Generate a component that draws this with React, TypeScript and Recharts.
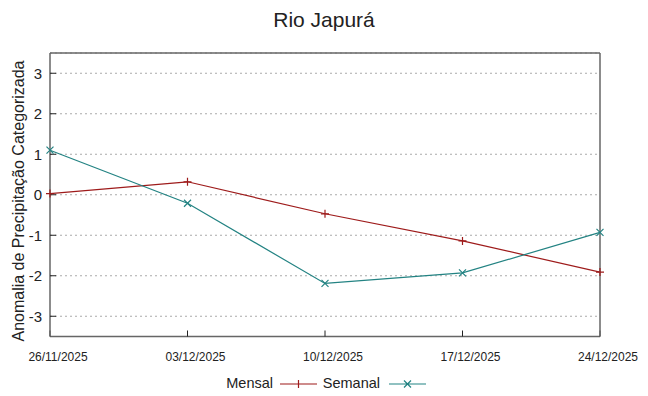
import React from 'react';
import { LineChart, Line, XAxis, YAxis, CartesianGrid } from 'recharts';

const dates = ['26/11/2025', '03/12/2025', '10/12/2025', '17/12/2025', '24/12/2025'];
const mensal = [0.03, 0.32, -0.47, -1.14, -1.91];
const semanal = [1.1, -0.21, -2.19, -1.93, -0.93];
const yTicks = [-3, -2, -1, 0, 1, 2, 3];

const data = dates.map((d, i) => ({ idx: i, date: d, mensal: mensal[i], semanal: semanal[i] }));

const RED = '#9e1b1b';
const TEAL = '#238383';
const FONT = "'Liberation Sans', Arial, sans-serif";

function PlusDot(props: any) {
    const { cx, cy, index } = props;
    return (
        <path key={'p' + index} d={`M${cx - 4},${cy}H${cx + 4}M${cx},${cy - 4}V${cy + 4}`} stroke={RED} strokeWidth={1.2} fill="none" />
    );
}

function CrossDot(props: any) {
    const { cx, cy, index } = props;
    return (
        <path key={'x' + index} d={`M${cx - 3.5},${cy - 3.5}L${cx + 3.5},${cy + 3.5}M${cx - 3.5},${cy + 3.5}L${cx + 3.5},${cy - 3.5}`} stroke={TEAL} strokeWidth={1.2} fill="none" />
    );
}

export default function App() {
    const axisLine = { stroke: '#666', strokeWidth: 1.5 };
    const tickLine = { stroke: '#222', strokeWidth: 1 };

    return (
        <div style={{ position: 'absolute', left: 0, top: 0, width: 648, height: 396, background: '#fff' }}>
            <LineChart width={648} height={396} data={data} margin={{ top: 52, right: 47, bottom: 29.5, left: 10 }}>
                <CartesianGrid vertical={false} stroke="#aaa" strokeDasharray="2 3" />
                <XAxis
                    dataKey="idx"
                    type="number"
                    domain={[0, 4]}
                    ticks={[0, 1, 2, 3, 4]}
                    tickFormatter={(i: number) => dates[i]}
                    height={30}
                    axisLine={axisLine}
                    tickLine={tickLine}
                    tickSize={-6}
                    tickMargin={22}
                    tick={{ fontSize: 12, fill: '#222', fontFamily: FONT, dx: 8 }}
                    interval={0}
                />
                <XAxis
                    xAxisId="top"
                    orientation="top"
                    dataKey="idx"
                    type="number"
                    domain={[0, 4]}
                    ticks={[0, 1, 2, 3, 4]}
                    height={1}
                    axisLine={axisLine}
                    tickLine={tickLine}
                    tickSize={-6}
                    tick={false}
                />
                <YAxis
                    type="number"
                    domain={[-3.5, 3.5]}
                    ticks={yTicks}
                    width={40}
                    axisLine={axisLine}
                    tickLine={tickLine}
                    tickSize={-6}
                    tickMargin={14}
                    tick={{ fontSize: 15, fill: '#222', fontFamily: FONT }}
                    interval={0}
                />
                <YAxis
                    yAxisId="right"
                    orientation="right"
                    type="number"
                    domain={[-3.5, 3.5]}
                    ticks={yTicks}
                    width={1}
                    axisLine={axisLine}
                    tickLine={tickLine}
                    tickSize={-6}
                    tick={false}
                />
                <Line isAnimationActive={false} type="linear" dataKey="mensal" stroke={RED} strokeWidth={1.2} dot={PlusDot} activeDot={false} />
                <Line isAnimationActive={false} type="linear" dataKey="semanal" stroke={TEAL} strokeWidth={1.2} dot={CrossDot} activeDot={false} />
            </LineChart>
            <svg width={648} height={396} style={{ position: 'absolute', left: 0, top: 0, pointerEvents: 'none' }}>
                <text x={324} y={27} textAnchor="middle" fontSize={21} fill="#222" fontFamily={FONT}>Rio Japurá</text>
                <text transform="translate(24,201) rotate(-90)" textAnchor="middle" fontSize={16} fill="#222" fontFamily={FONT}>
                    Anomalia de Precipitação Categorizada
                </text>
                <text x={273} y={388} textAnchor="end" fontSize={14.5} fill="#222" fontFamily={FONT}>Mensal</text>
                <path d="M280,384H317M298.5,380V388" stroke={RED} strokeWidth={1.2} />
                <text x={380} y={388} textAnchor="end" fontSize={14.5} fill="#222" fontFamily={FONT}>Semanal</text>
                <path d="M389,384H426M404,380.5L411,387.5M404,387.5L411,380.5" stroke={TEAL} strokeWidth={1.2} />
            </svg>
        </div>
    );
}
